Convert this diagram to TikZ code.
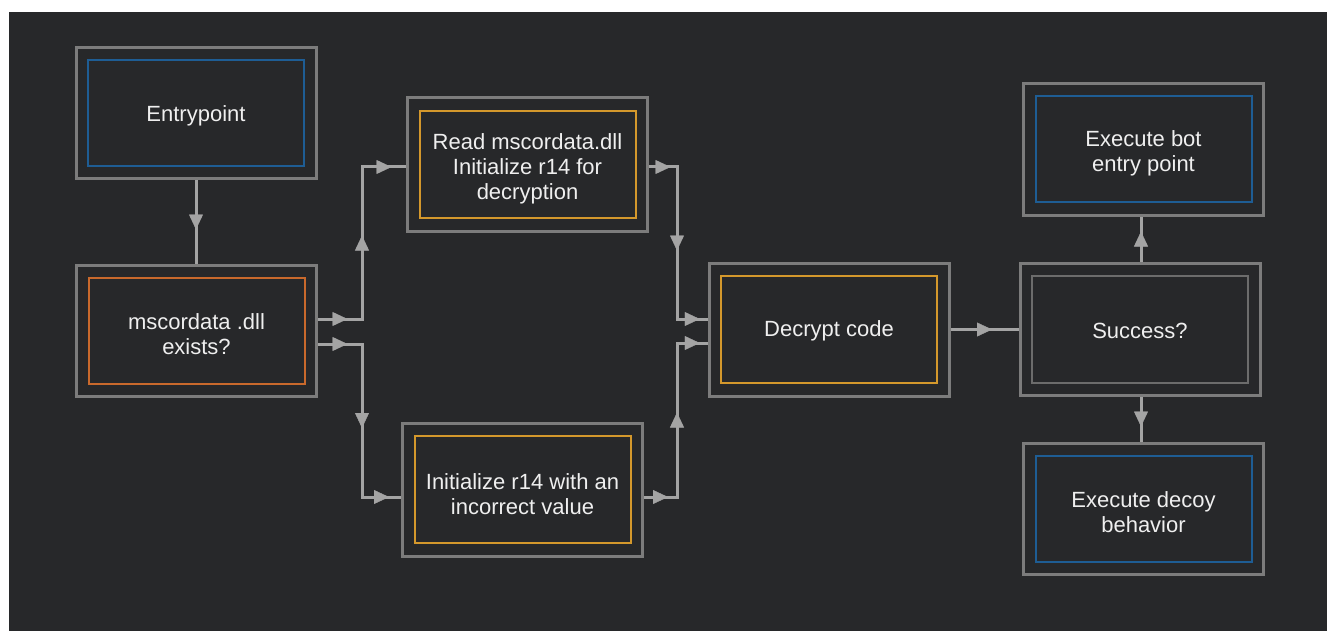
\documentclass[tikz,border=0pt]{standalone}
\usepackage{fontspec}
\setmainfont{Liberation Sans}
\usetikzlibrary{arrows.meta,decorations.markings,calc}
\definecolor{bg}{HTML}{27282A}
\definecolor{outergray}{HTML}{7C7C7C}
\definecolor{conngray}{HTML}{A4A4A4}
\definecolor{iblue}{HTML}{1E5D94}
\definecolor{iorange}{HTML}{C9692C}
\definecolor{iamber}{HTML}{D4982C}
\definecolor{igray}{HTML}{6C6C6C}
\definecolor{txt}{HTML}{EFEFEF}
\begin{document}
\begin{tikzpicture}[x=1pt,y=-1pt,
  obox/.style={draw=outergray, line width=3pt, minimum width=240pt, minimum height=131pt, inner sep=0pt},
  ibox/.style={draw=#1, line width=2pt, minimum width=216pt, minimum height=106pt, inner sep=0pt},
  lbl/.style={text=txt, font=\fontsize{22}{25}\selectfont, align=center, inner sep=0pt},
  conn/.style={draw=conngray, line width=3pt, line join=miter},
  midarr/.style={color=conngray, decoration={markings, mark=at position 0.5 with
    {\pgftransformxshift{7.5pt}\pgfsetfillcolor{conngray}\pgfsetstrokecolor{conngray}%
     \arrow{Triangle[length=15pt,width=14pt,color=conngray]}}}, decorate}
]
\useasboundingbox (0,0) rectangle (1327,631);
\fill[white] (0,0) rectangle (1327,631);
\fill[bg] (9,12) rectangle (1327,631);

% boxes
\node[obox] (entry) at (196,113.5) {};
\node[ibox=iblue] (entryi) at (entry) {};
\node[lbl] (entryt) at ($(entry)+(0,2)$) {Entrypoint};

\node[obox] (msc) at (196.5,330.5) {};
\node[ibox=iorange] (msci) at (msc) {};
\node[lbl] (msct) at ($(msc)+(0,4)$) {mscordata .dll\\exists?};

\node[obox, minimum height=133pt] (read) at (527.5,164.5) {};
\node[ibox=iamber, minimum height=107pt] (readi) at (read) {};
\node[lbl] (readt) at ($(read)+(0,4.5)$) {Read mscordata.dll\\Initialize r14 for\\decryption};

\node[obox, minimum height=133pt] (init) at (522.5,489.5) {};
\node[ibox=iamber, minimum height=107pt] (initi) at (init) {};
\node[lbl] (initt) at ($(init)+(0,5)$) {Initialize r14 with an\\incorrect value};

\node[obox, minimum height=133pt] (dec) at (829,329.5) {};
\node[ibox=iamber, minimum height=107pt] (deci) at (dec) {};
\node[lbl] (dect) at ($(dec)+(0,1.5)$) {Decrypt code};

\node[obox, minimum height=132pt] (succ) at (1140,329) {};
\node[ibox=igray, minimum height=107pt] (succi) at (succ) {};
\node[lbl] (succt) at ($(succ)+(0,1.5)$) {Success?};

\node[obox] (bot) at (1143.5,149.5) {};
\node[ibox=iblue] (boti) at (bot) {};
\node[lbl] (bott) at ($(bot)+(0,4)$) {Execute bot\\entry point};

\node[obox] (decoy) at (1143.5,508.5) {};
\node[ibox=iblue] (decoyi) at (decoy) {};
\node[lbl] (decoyt) at ($(decoy)+(0,4)$) {Execute decoy\\behavior};

% connection points
\coordinate (busL) at (362,0);
\coordinate (busR) at (677,0);
\coordinate (m1) at ($(msc.east)+(0,-11.5)$);
\coordinate (m2) at ($(msc.east)+(0,13.5)$);
\coordinate (r1) at ($(read.west)+(0,2.5)$);
\coordinate (r2) at ($(read.east)+(0,2.5)$);
\coordinate (i1) at ($(init.west)+(0,7.5)$);
\coordinate (i2) at ($(init.east)+(0,7.5)$);
\coordinate (d1) at ($(dec.west)+(0,-10.5)$);
\coordinate (d2) at ($(dec.west)+(0,13.5)$);
\coordinate (s1) at (1141,0);

% Entry -> msc
\draw[conn] (entry.south) -- (entry.south |- msc.north);
\path[midarr] (entry.south) -- (entry.south |- msc.north);

% msc -> read
\draw[conn] (m1) -- (m1 -| busL) -- (busL |- r1) -- (r1);
\path[midarr] (m1) -- (m1 -| busL);
\path[midarr] (m1 -| busL) -- (busL |- r1);
\path[midarr] (busL |- r1) -- (r1);

% msc -> init
\draw[conn] (m2) -- (m2 -| busL) -- (busL |- i1) -- (i1);
\path[midarr] (m2) -- (m2 -| busL);
\path[midarr] (m2 -| busL) -- (busL |- i1);
\path[midarr] (busL |- i1) -- (i1);

% read -> dec
\draw[conn] (r2) -- (r2 -| busR) -- (busR |- d1) -- (d1);
\path[midarr] (r2) -- (r2 -| busR);
\path[midarr] (r2 -| busR) -- (busR |- d1);
\path[midarr] (busR |- d1) -- (d1);

% init -> dec
\draw[conn] (i2) -- (i2 -| busR) -- (busR |- d2) -- (d2);
\path[midarr] (i2) -- (i2 -| busR);
\path[midarr] (i2 -| busR) -- (busR |- d2);
\path[midarr] (busR |- d2) -- (d2);

% dec -> succ
\draw[conn] (dec.east) -- (dec.east -| succ.west);
\path[midarr] (dec.east) -- (dec.east -| succ.west);

% succ -> bot / decoy
\draw[conn] (s1 |- succ.north) -- (s1 |- bot.south);
\path[midarr] (s1 |- succ.north) -- (s1 |- bot.south);
\draw[conn] (s1 |- succ.south) -- (s1 |- decoy.north);
\path[midarr] (s1 |- succ.south) -- (s1 |- decoy.north);
\end{tikzpicture}
\end{document}
